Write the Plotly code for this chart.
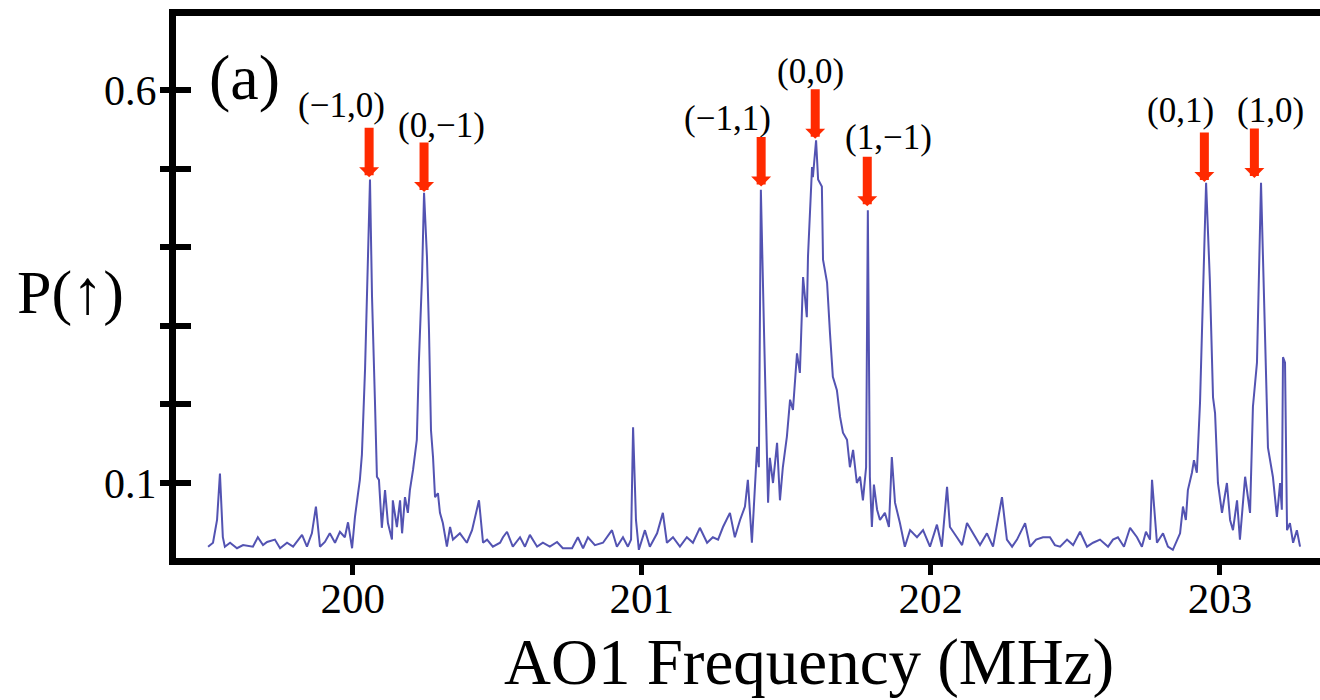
import plotly.graph_objects as go

# AO1 frequency (MHz) and spin-up probability
freq = [
    199.500, 199.517, 199.531, 199.541, 199.551, 199.558, 199.576, 199.600, 199.621, 199.655,
    199.672, 199.690, 199.704, 199.731, 199.749, 199.773, 199.794, 199.825, 199.842, 199.859,
    199.873, 199.887, 199.904, 199.921, 199.939, 199.956, 199.973, 199.984, 199.998, 200.008,
    200.018, 200.025, 200.032, 200.043, 200.060, 200.067, 200.077, 200.084, 200.091, 200.101,
    200.112, 200.122, 200.136, 200.139, 200.153, 200.164, 200.171, 200.181, 200.191, 200.198,
    200.209, 200.222, 200.229, 200.240, 200.247, 200.257, 200.264, 200.271, 200.278, 200.285,
    200.295, 200.302, 200.312, 200.326, 200.337, 200.347, 200.371, 200.395, 200.413, 200.437,
    200.451, 200.465, 200.485, 200.510, 200.520, 200.534, 200.554, 200.579, 200.596, 200.613,
    200.638, 200.658, 200.682, 200.707, 200.727, 200.759, 200.779, 200.797, 200.814, 200.838,
    200.866, 200.897, 200.914, 200.935, 200.952, 200.963, 200.970, 200.980, 200.990, 201.011,
    201.028, 201.053, 201.073, 201.087, 201.108, 201.132, 201.156, 201.177, 201.201, 201.226,
    201.246, 201.264, 201.281, 201.305, 201.322, 201.340, 201.357, 201.367, 201.381, 201.392,
    201.399, 201.405, 201.412, 201.423, 201.433, 201.437, 201.443, 201.454, 201.468, 201.478,
    201.488, 201.502, 201.513, 201.523, 201.537, 201.547, 201.558, 201.571, 201.575, 201.589,
    201.592, 201.603, 201.610, 201.623, 201.627, 201.641, 201.651, 201.661, 201.675, 201.686,
    201.696, 201.710, 201.720, 201.731, 201.744, 201.755, 201.765, 201.776, 201.782, 201.789,
    201.796, 201.803, 201.814, 201.824, 201.841, 201.855, 201.865, 201.876, 201.893, 201.910,
    201.928, 201.952, 201.973, 201.997, 202.021, 202.038, 202.056, 202.066, 202.090, 202.108,
    202.125, 202.153, 202.170, 202.194, 202.215, 202.246, 202.263, 202.281, 202.298, 202.326,
    202.343, 202.364, 202.388, 202.412, 202.429, 202.447, 202.471, 202.492, 202.516, 202.540,
    202.561, 202.585, 202.613, 202.630, 202.647, 202.668, 202.689, 202.713, 202.730, 202.744,
    202.758, 202.765, 202.775, 202.782, 202.803, 202.820, 202.837, 202.851, 202.862, 202.872,
    202.882, 202.889, 202.903, 202.910, 202.920, 202.931, 202.938, 202.952, 202.965, 202.976,
    202.983, 202.993, 203.007, 203.024, 203.035, 203.045, 203.059, 203.069, 203.087, 203.104,
    203.114, 203.128, 203.142, 203.156, 203.166, 203.183, 203.197, 203.208, 203.214, 203.218,
    203.225, 203.232, 203.242, 203.253, 203.266, 203.277,
]
p_up = [
    0.019, 0.024, 0.053, 0.112, 0.031, 0.019, 0.024, 0.017, 0.021, 0.019,
    0.031, 0.021, 0.025, 0.028, 0.017, 0.024, 0.019, 0.034, 0.019, 0.036,
    0.070, 0.019, 0.025, 0.036, 0.024, 0.038, 0.031, 0.050, 0.017, 0.057,
    0.085, 0.104, 0.136, 0.246, 0.486, 0.337, 0.206, 0.108, 0.104, 0.043,
    0.091, 0.049, 0.028, 0.078, 0.044, 0.078, 0.036, 0.082, 0.062, 0.091,
    0.117, 0.155, 0.253, 0.362, 0.469, 0.388, 0.295, 0.167, 0.133, 0.082,
    0.087, 0.062, 0.049, 0.019, 0.044, 0.028, 0.036, 0.024, 0.040, 0.078,
    0.024, 0.028, 0.019, 0.024, 0.031, 0.038, 0.019, 0.031, 0.019, 0.034,
    0.019, 0.024, 0.019, 0.025, 0.017, 0.017, 0.031, 0.017, 0.031, 0.021,
    0.024, 0.040, 0.019, 0.031, 0.019, 0.028, 0.171, 0.053, 0.015, 0.040,
    0.019, 0.036, 0.062, 0.024, 0.031, 0.019, 0.031, 0.024, 0.043, 0.024,
    0.031, 0.028, 0.044, 0.062, 0.031, 0.053, 0.070, 0.104, 0.024, 0.091,
    0.146, 0.120, 0.473, 0.291, 0.129, 0.075, 0.132, 0.100, 0.151, 0.078,
    0.120, 0.159, 0.206, 0.193, 0.265, 0.240, 0.362, 0.311, 0.388, 0.502,
    0.489, 0.536, 0.486, 0.477, 0.384, 0.355, 0.291, 0.235, 0.218, 0.184,
    0.164, 0.155, 0.120, 0.142, 0.100, 0.108, 0.078, 0.120, 0.447, 0.108,
    0.044, 0.098, 0.066, 0.053, 0.062, 0.044, 0.133, 0.075, 0.049, 0.019,
    0.040, 0.031, 0.040, 0.019, 0.047, 0.019, 0.095, 0.044, 0.031, 0.021,
    0.049, 0.031, 0.021, 0.036, 0.019, 0.082, 0.028, 0.019, 0.028, 0.049,
    0.019, 0.028, 0.031, 0.031, 0.021, 0.019, 0.028, 0.021, 0.038, 0.019,
    0.024, 0.028, 0.019, 0.028, 0.031, 0.019, 0.043, 0.031, 0.019, 0.038,
    0.028, 0.104, 0.053, 0.024, 0.036, 0.019, 0.015, 0.028, 0.036, 0.070,
    0.053, 0.091, 0.113, 0.129, 0.113, 0.202, 0.295, 0.482, 0.358, 0.209,
    0.189, 0.100, 0.062, 0.100, 0.053, 0.040, 0.078, 0.028, 0.108, 0.062,
    0.197, 0.253, 0.482, 0.269, 0.145, 0.108, 0.057, 0.100, 0.066, 0.260,
    0.253, 0.040, 0.049, 0.024, 0.040, 0.019,
]

# resonance labels and where the arrows point
res_labels = ["(\u22121,0)", "(0,\u22121)", "(\u22121,1)", "(0,0)", "(1,\u22121)", "(0,1)", "(1,0)"]
arrow_x = [200.057, 200.247, 201.413, 201.600, 201.780, 202.946, 203.119]
arrow_y = [0.489, 0.470, 0.477, 0.538, 0.452, 0.483, 0.488]
label_x = [199.963, 200.309, 201.295, 201.582, 201.852, 202.865, 203.176]
label_y = [0.580, 0.555, 0.564, 0.623, 0.539, 0.574, 0.574]

x_ticks = [200, 201, 202, 203]
y_ticks = [0.1, 0.2, 0.3, 0.4, 0.5, 0.6]
y_ticktext = ["0.1", "", "", "", "", "0.6"]

serif = "Liberation Serif, Times New Roman, DejaVu Serif, serif"
red = "#ff2a00"
x_range = [199.389, 203.346]
y_range = [0.0046, 0.694]
clear = "rgba(0,0,0,0)"

fig = go.Figure()
fig.add_trace(go.Scatter(
    x=freq, y=p_up, mode="lines",
    line=dict(color="rgb(60,60,168)", width=2),
    opacity=0.88, hoverinfo="skip", showlegend=False,
))
# invisible anchors so the overlay axes (inner ticks, tick labels) get drawn
fig.add_trace(go.Scatter(
    x=[x_ticks[0]], y=[y_ticks[0]], xaxis="x2", yaxis="y2", mode="markers",
    marker=dict(opacity=0), hoverinfo="skip", showlegend=False,
))
fig.add_trace(go.Scatter(
    x=[x_ticks[0]], y=[y_ticks[0]], xaxis="x", yaxis="y3", mode="markers",
    marker=dict(opacity=0), hoverinfo="skip", showlegend=False,
))

annotations = []
for lx, ly, txt in zip(label_x, label_y, res_labels):
    annotations.append(dict(
        x=lx, y=ly, xref="x", yref="y", text=txt, showarrow=False,
        xanchor="center", yanchor="middle",
        font=dict(family=serif, size=35, color="black"),
    ))
for ax_, ay_ in zip(arrow_x, arrow_y):
    annotations.append(dict(
        x=ax_, y=ay_, xref="x", yref="y", text="", showarrow=True,
        ax=0, ay=-51, arrowhead=1, arrowsize=0.37, arrowwidth=9,
        arrowcolor=red, standoff=0,
    ))
annotations += [
    dict(x=0.06, y=0.887, xref="paper", yref="paper", text="(a)", showarrow=False,
         xanchor="center", yanchor="middle",
         font=dict(family=serif, size=64, color="black")),
    dict(x=-0.092, y=0.489, xref="paper", yref="paper", text="P(\u2191)", showarrow=False,
         xanchor="center", yanchor="middle",
         font=dict(family=serif, size=62, color="black")),
    dict(x=0.553, y=-0.192, xref="paper", yref="paper", text="AO1 Frequency (MHz)",
         showarrow=False, xanchor="center", yanchor="middle",
         font=dict(family=serif, size=65, color="black")),
]

fig.update_layout(
    width=1320, height=700,
    margin=dict(l=176, r=0, t=16, b=142),
    paper_bgcolor="white", plot_bgcolor="white",
    showlegend=False,
    annotations=annotations,
    xaxis=dict(
        range=x_range, showgrid=False, zeroline=False,
        showline=True, linecolor="black", linewidth=7, mirror=True,
        ticks="outside", ticklen=10, tickwidth=5, tickcolor="black",
        tickvals=x_ticks, showticklabels=False,
    ),
    # tick labels only, sitting closer to the axis than the ticked axis allows
    xaxis2=dict(
        range=x_range, overlaying="x", side="bottom", anchor="y",
        showgrid=False, zeroline=False, showline=False,
        ticks="outside", ticklen=2, tickcolor=clear,
        tickvals=x_ticks, ticktext=[str(v) for v in x_ticks],
        tickfont=dict(family=serif, size=43, color="black"),
    ),
    yaxis=dict(
        range=y_range, showgrid=False, zeroline=False,
        showline=True, linecolor="black", linewidth=7,
        ticks="outside", ticklen=9, tickwidth=6, tickcolor="black",
        tickvals=y_ticks, showticklabels=False,
    ),
    yaxis2=dict(
        range=y_range, overlaying="y", side="left", anchor="x",
        showgrid=False, zeroline=False, showline=False, showticklabels=False,
        ticks="inside", ticklen=15, tickwidth=6, tickcolor="black",
        tickvals=y_ticks,
    ),
    yaxis3=dict(
        range=y_range, overlaying="y", side="left", anchor="x",
        showgrid=False, zeroline=False, showline=False,
        ticks="outside", ticklen=10, tickcolor=clear,
        tickvals=y_ticks, ticktext=y_ticktext,
        tickfont=dict(family=serif, size=42, color="black"),
    ),
)

fig.write_html(
    "out.html",
    config={"displayModeBar": False},
    post_script="document.body.style.margin='0';",
)
